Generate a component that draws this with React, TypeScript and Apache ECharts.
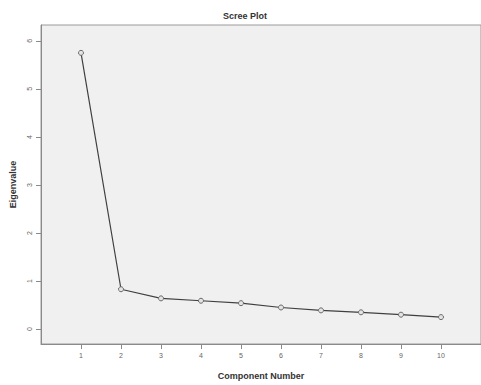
import React, { useEffect, useRef } from "react";
import * as echarts from "echarts";

const components = [1, 2, 3, 4, 5, 6, 7, 8, 9, 10];
const eigenvalues = [5.75, 0.83, 0.64, 0.59, 0.54, 0.45, 0.39, 0.35, 0.3, 0.25];
const yTicks = [0, 1, 2, 3, 4, 5, 6];

export default function App() {
  const ref = useRef<HTMLDivElement>(null);
  useEffect(() => {
    if (!ref.current) return;
    const chart = echarts.init(ref.current, null, { renderer: "svg" });
    chart.setOption({
      animation: false,
      backgroundColor: "#ffffff",
      title: {
        text: "Scree Plot",
        left: 240,
        textAlign: "center",
        top: 6,
        textStyle: { fontSize: 9, fontWeight: "bold", color: "#333", fontFamily: "Liberation Sans, Arial" },
      },
      grid: {
        left: 39,
        top: 25,
        width: 444,
        bottom: 39,
        show: true,
        backgroundColor: "#f0f0f0",
        borderColor: "#9a9a9a",
        borderWidth: 1,
      },
      xAxis: {
        type: "value",
        min: 0,
        max: 11,
        name: "Component Number",
        nameLocation: "middle",
        nameGap: 27,
        nameTextStyle: { fontSize: 9, fontWeight: "bold", color: "#333", fontFamily: "Liberation Sans, Arial" },
        axisLine: { show: true, onZero: false, lineStyle: { color: "#8a8a8a", width: 1 } },
        axisTick: { show: true, length: 5, lineStyle: { color: "#8a8a8a" }, customValues: components },
        axisLabel: {
          fontSize: 7,
          color: "#666",
          margin: 8,
          customValues: components,
          fontFamily: "Liberation Sans, Arial",
        },
        splitLine: { show: false },
      },
      yAxis: {
        type: "value",
        min: -0.31,
        max: 6.33,
        name: "Eigenvalue",
        nameLocation: "middle",
        nameGap: 24,
        nameRotate: 90,
        nameTextStyle: { fontSize: 9, fontWeight: "bold", color: "#333", fontFamily: "Liberation Sans, Arial" },
        axisLine: { show: true, onZero: false, lineStyle: { color: "#8a8a8a", width: 1 } },
        axisTick: { show: true, length: 5, lineStyle: { color: "#8a8a8a" }, customValues: yTicks },
        axisLabel: {
          fontSize: 7,
          color: "#666",
          margin: 8,
          rotate: 90,
          customValues: yTicks,
          fontFamily: "Liberation Sans, Arial",
        },
        splitLine: { show: false },
      },
      series: [
        {
          type: "line",
          data: components.map((c, i) => [c, eigenvalues[i]]),
          symbol: "circle",
          symbolSize: 5,
          itemStyle: { color: "#e4e4e4", borderColor: "#6a6a6a", borderWidth: 1 },
          lineStyle: { color: "#404040", width: 1.2 },
        },
      ],
    });
    return () => chart.dispose();
  }, []);
  return (
    <div
      ref={ref}
      style={{ position: "fixed", left: 0, top: 0, width: 481, height: 385 }}
    />
  );
}
